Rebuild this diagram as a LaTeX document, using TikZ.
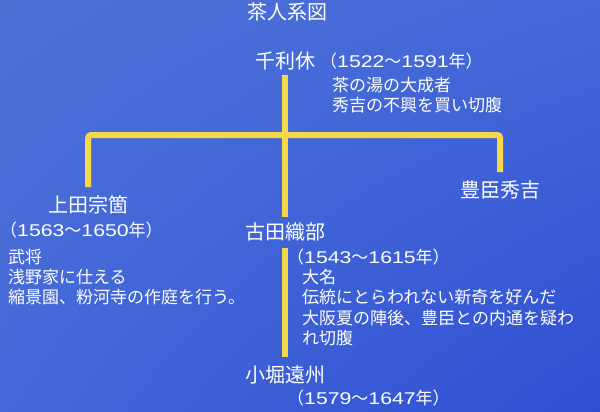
\documentclass[tikz,border=0pt]{standalone}
\usepackage{fontspec}
\newfontfamily\jpfont{Noto Sans CJK JP}
\newfontfamily\digitfont[FakeStretch=1.25]{Liberation Sans}
\usepackage{xcolor}
\usetikzlibrary{positioning, shadings}
\definecolor{bgA}{HTML}{4C72D8}
\definecolor{bgB}{HTML}{4468D8}
\definecolor{bgC}{HTML}{2E4FD4}
\definecolor{lineyellow}{HTML}{F5D848}
% life span, with wide digits
\newcommand{\lifespan}[2]{（{\digitfont #1}〜{\digitfont #2}年）}
\tikzset{%
    % Names of the tea masters
    person/.style   = {text=white, inner sep=0pt, anchor=west,
    font=\jpfont\fontsize{20}{24}\selectfont},
    % Dates and remarks
    memo/.style     = {text=white, inner sep=0pt, anchor=west, align=left,
    font=\jpfont\fontsize{17}{20.3}\selectfont},
    % Lines of the family tree
    famline/.style  = {draw=lineyellow, line width=6pt, rounded corners=3pt}
}
\begin{document}
\begin{tikzpicture}[x=1pt, y=-1pt]
	\useasboundingbox (0,0) rectangle (600,412);
	\shade[upper left=bgA, upper right=bgB, lower left=bgB, lower right=bgC]
	(0,0) rectangle (600,412);

	\node[person] (title) at (247,12) {茶人系図};

	\node[person] (rikyu) at (255,61) {千利休};
	\node[memo] (rikyudate) at (320,61) {\lifespan{1522}{1591}};
	\node[memo] (rikyunote) at (332,95) {茶の湯の大成者\\秀吉の不興を買い切腹};

	\node[person] (soko) at (48,205) {上田宗箇};
	\node[memo] (sokodate) at (0,230) {\lifespan{1563}{1650}};
	\node[memo] (sokonote) at (8,277) {武将\\浅野家に仕える\\縮景園、粉河寺の作庭を行う。};

	\node[person] (oribe) at (245,232) {古田織部};
	\node[memo] (oribedate) at (287,257) {\lifespan{1543}{1615}};
	\node[memo] (oribenote) at (302,307.5) {大名\\伝統にとらわれない新奇を好んだ\\大阪夏の陣後、豊臣との内通を疑わ\\れ切腹};

	\node[person] (enshu) at (245,375) {小堀遠州};
	\node[memo] (enshudate) at (287,398) {\lifespan{1579}{1647}};

	\node[person] (hideyoshi) at (460,190) {豊臣秀吉};

	\coordinate (fork) at (285,135);
	\draw[famline] (rikyu.south |- 0,75) -- (oribe.north |- 0,217);
	\draw[famline] (soko.north |- 0,187) |- (fork) -| (hideyoshi.north |- 0,172);
	\draw[famline] (oribe.south |- 0,248) -- (enshu.north |- 0,357);
\end{tikzpicture}
\end{document}
